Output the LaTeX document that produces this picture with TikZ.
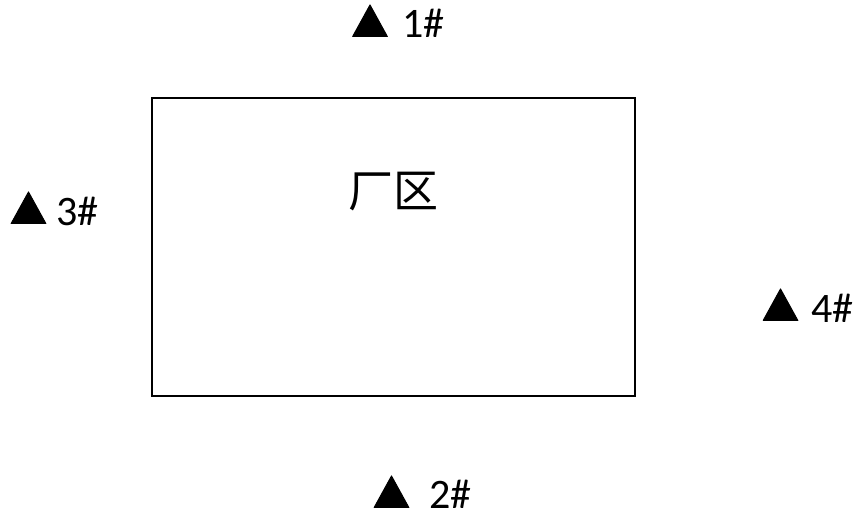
\documentclass[tikz,border=0pt]{standalone}
\usepackage{fontspec}
\setmainfont{Carlito}
\newfontfamily\cjk{Noto Sans CJK SC}
\usetikzlibrary{shapes.geometric,positioning}

\begin{document}
\begin{tikzpicture}[x=1pt,y=-1pt,
% Station and symbol style
station/.style={regular polygon,regular polygon sides=3,fill=black,
	draw=black,line join=round,line width=1pt,inner sep=0pt,
	minimum size=40pt,yscale=1.05,anchor=south},
% Label style
tag/.style={font=\fontsize{42}{42}\selectfont,inner sep=0pt,
	text depth=0pt,anchor=base west},
% Area style
area/.style={draw=black,line width=2pt,minimum width=483pt,
	minimum height=298pt,inner sep=0pt},
]
\useasboundingbox (0,0) rectangle (858,515);
%% Draw plant area
\node (fac) [area] at (393.5,247) {};
\node (name) [inner sep=0pt,font=\cjk\fontsize{45}{45}\selectfont]
	at (393,192) {厂区};
%% Draw stations
\node (t1) [station] at (370,37) {};
\node (t2) [station] at (391.5,508) {};
\node (t3) [station] at (28.5,224) {};
\node (t4) [station] at (780.5,321) {};
\node (l1) [tag] at (402,37) {1\#};
\node (l2) [tag] at (429,508) {2\#};
\node (l3) [tag] at (56,225) {3\#};
\node (l4) [tag] at (811,322) {4\#};

\end{tikzpicture}
\end{document}
